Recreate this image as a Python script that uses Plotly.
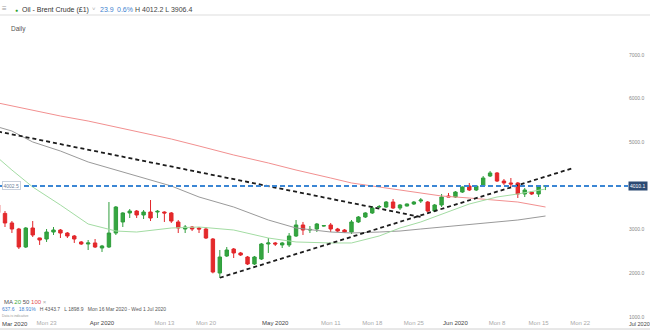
import pandas as pd
import plotly.graph_objects as go

# Daily sessions: Sunday sessions traded, Saturdays and Good Friday closed
start_day, end_day = "2020-03-15", "2020-06-16"
closed_days = ["2020-04-10"]
days = [d for d in pd.date_range(start_day, end_day)
        if d.dayofweek != 5 and d.strftime("%Y-%m-%d") not in closed_days]
dates = [d.strftime("%Y-%m-%d 12:00") for d in days]

opens = [3565, 3372.5, 3153, 3015, 2603, 3038, 2810, 2786, 2946, 2992, 2923, 2855, 2718, 2672,
         2695, 2580, 2603, 2923, 3176, 3382, 3427, 3336, 3404, 3404, 3404, 3382, 3176, 3015,
         3061, 3038, 3015, 2786, 2007, 2397, 2557, 2466, 2374, 2214, 2328, 2672, 2695, 2650,
         2650, 2855, 3107, 2992, 3015, 3084, 3107, 3015, 2992, 2946, 3176, 3290, 3382, 3519,
         3519, 3633, 3496, 3542, 3588, 3656, 3633, 3427, 3565, 3771, 3748, 3862, 4000, 3908,
         4000, 4229, 4298, 4114, 4069, 4069, 3817, 3862, 3817, 3986.2]
highs = [3600, 3427, 3198, 3040, 3060, 3198, 2815, 3015, 3061, 3015, 2946, 2878, 2740, 2763,
         2786, 2650, 3633, 3542, 3400, 3473, 3450, 3450, 3679, 3450, 3420, 3404, 3221, 3107,
         3084, 3061, 3061, 2809, 2534, 2603, 2580, 2489, 2397, 2397, 2695, 2809, 2718, 2718,
         2923, 3221, 3176, 3084, 3153, 3100, 3153, 3040, 3015, 3221, 3313, 3400, 3542, 3565,
         3656, 3702, 3588, 3600, 3656, 3725, 3656, 3588, 3817, 3840, 3885, 3990, 4069, 4023,
         4229, 4343.7, 4320, 4160, 4183, 4091, 3954, 3862, 3995, 4012.2]
lows = [3360, 3061, 2924, 2557, 2580, 2832, 2650, 2718, 2878, 2809, 2809, 2695, 2650, 2534,
        2580, 2489, 2580, 2878, 3061, 3267, 3267, 3244, 3198, 3267, 3176, 3153, 2923, 2923,
        2969, 2923, 2786, 2000, 1898.9, 2374, 2351, 2397, 2191, 2191, 2305, 2466, 2626, 2580,
        2603, 2832, 2878, 2923, 2946, 3070, 2946, 2946, 2923, 2900, 3153, 3267, 3359, 3496,
        3496, 3473, 3450, 3530, 3565, 3610, 3404, 3404, 3519, 3748, 3725, 3840, 3885, 3885,
        3977, 4206, 4091, 4023, 3977, 3725, 3748, 3794, 3748, 3906.4]
closes = [3390, 3153, 3015, 2603, 3038, 2878, 2763, 2946, 2992, 2923, 2855, 2786, 2672, 2695,
          2603, 2626, 2923, 3519, 3382, 3427, 3336, 3404, 3267, 3420, 3382, 3198, 3038, 3061,
          3015, 3015, 2809, 2030, 2374, 2534, 2466, 2420, 2214, 2374, 2672, 2695, 2672, 2695,
          2855, 3107, 2992, 3005, 3130, 3092, 3015, 2969, 2946, 3176, 3290, 3382, 3496, 3530,
          3633, 3496, 3565, 3588, 3633, 3679, 3427, 3565, 3748, 3750, 3862, 3977, 3908, 4000,
          4183, 4298, 4114, 4069, 4046, 3817, 3908, 3817, 3986.2, 4010.1]

# Moving averages sampled on selected sessions
ma_dates = ["2020-03-15", "2020-03-17", "2020-03-20", "2020-03-25", "2020-03-30", "2020-04-03",
            "2020-04-07", "2020-04-14", "2020-04-19", "2020-04-24", "2020-04-30", "2020-05-05",
            "2020-05-11", "2020-05-14", "2020-05-19", "2020-05-22", "2020-05-26", "2020-05-29",
            "2020-06-03", "2020-06-08", "2020-06-11", "2020-06-16"]
ma20 = [4641, 4366, 3977, 3565, 3130, 2969, 2946, 3038, 3061, 2992, 2809, 2718,
        2695, 2695, 2855, 3038, 3176, 3359, 3588, 3748, 3817, 3931]
ma50 = [5351, 5259, 5008, 4801, 4550, 4366, 4229, 4000, 3748, 3519, 3221, 3038,
        2946, 2924, 2946, 2969, 3015, 3061, 3107, 3176, 3221, 3313]
ma100 = [5901, 5832, 5740, 5603, 5488, 5351, 5259, 5076, 4916, 4710, 4527, 4366,
         4183, 4069, 3977, 3908, 3840, 3771, 3725, 3679, 3633, 3519]

# Trendlines (start, end)
falling_dates, falling_vals = ["2020-03-15", "2020-05-26"], [5248, 3290]
rising_dates, rising_vals = ["2020-04-22", "2020-06-21"], [1898.9, 4412]
level_line = 4002.5
last_price = 4010.1

y_ticks = [1000, 2000, 3000, 4000, 5000, 6000, 7000]
x_tick_dates = ["2020-03-23", "2020-04-01", "2020-04-13", "2020-04-20", "2020-05-01",
                "2020-05-11", "2020-05-18", "2020-05-25", "2020-06-01", "2020-06-08",
                "2020-06-15", "2020-06-22"]
x_tick_text = ["Mon 23", "Apr 2020", "Mon 13", "Mon 20", "May 2020", "Mon 11", "Mon 18",
               "Mon 25", "Jun 2020", "Mon 8", "Mon 15", "Mon 22"]

noon = lambda ds: [d + " 12:00" for d in ds]

FONT = "Liberation Sans, Arial, sans-serif"
W, H = 650, 330
ML, MR, MT, MB = 0, 22, 15, 12
PW, PH = W - ML - MR, H - MT - MB


def fx(px):
    return (px - ML) / PW


def fy(py):
    return (H - MB - py) / PH


fig = go.Figure()

fig.add_trace(go.Scatter(x=noon(ma_dates), y=ma100, mode="lines",
                         line=dict(color="#f29090", width=1), hoverinfo="skip"))
fig.add_trace(go.Scatter(x=noon(ma_dates), y=ma50, mode="lines",
                         line=dict(color="#9a9a9a", width=1), hoverinfo="skip"))
fig.add_trace(go.Scatter(x=noon(ma_dates), y=ma20, mode="lines",
                         line=dict(color="#a3dca3", width=1), hoverinfo="skip"))

fig.add_trace(go.Candlestick(
    x=dates, open=opens, high=highs, low=lows, close=closes,
    increasing=dict(line=dict(color="#2f9e3c", width=1), fillcolor="#35a640"),
    decreasing=dict(line=dict(color="#e2262b", width=1), fillcolor="#e42a2a"),
    whiskerwidth=0, hoverinfo="skip"))

for xs, ys in [(falling_dates, falling_vals), (rising_dates, rising_vals)]:
    fig.add_trace(go.Scatter(x=noon(xs), y=ys, mode="lines",
                             line=dict(color="#1c1c1c", width=1.8, dash="4px,3px"),
                             hoverinfo="skip"))

fig.add_shape(type="line", xref="paper", x0=0, x1=1, yref="y", y0=level_line, y1=level_line,
              line=dict(color="#3b86d4", width=2, dash="5px,3px"))
# header and footer rules
fig.add_shape(type="line", xref="paper", x0=0, x1=W / PW, yref="paper", y0=fy(15), y1=fy(15),
              line=dict(color="#dddddd", width=1))
fig.add_shape(type="line", xref="paper", x0=0, x1=W / PW, yref="paper", y0=fy(329), y1=fy(329),
              line=dict(color="#d0d0d0", width=1))

ann = []


def label(px, py, text, size, color, **kw):
    ann.append(dict(xref="paper", yref="paper", x=fx(px), y=fy(py), text=text,
                    xanchor="left", yanchor="middle", showarrow=False,
                    font=dict(size=size, color=color, family=FONT), borderpad=0, **kw))


BLUE = "#3f83d0"
label(1, 9, "≡", 8, "#9a9a9a")
label(14, 9.5, "●", 5, "#2ca02c")
label(21, 10, "Oil - Brent Crude (£1)", 7, "#333333")
label(91, 9, "˅", 6, "#aaaaaa")
label(99, 10, "23.9", 7, BLUE)
label(116, 10, "0.6%", 7, BLUE)
label(134, 10, "H 4012.2 L 3906.4", 7, "#444444")
label(10, 29, "Daily", 6.5, "#555555")
label(3, 302, "MA <span style='color:#3caa3c'>20</span> 50 "
              "<span style='color:#e25050'>100</span> <span style='color:#aaaaaa'>×</span>",
      6, "#555555")
label(1, 309, f"<span style='color:{BLUE}'>637.6</span>   <span style='color:{BLUE}'>18.91%</span>"
              "   H 4343.7   L 1898.9   Mon 16 Mar 2020 - Wed 1 Jul 2020", 5, "#555555")
label(1, 316, "Data is indicative", 3.5, "#999999")
label(1, 324, "Mar 2020", 6, "#444444")
label(628, 324, "Jul 2020", 5.5, "#444444")

# price tags
ann.append(dict(xref="paper", yref="y", x=fx(628), y=last_price, text="4010.1",
                xanchor="left", yanchor="middle", showarrow=False, bgcolor="#2c4a73",
                borderpad=1, font=dict(size=5, color="white", family=FONT)))
ann.append(dict(xref="paper", yref="y", x=fx(2), y=level_line, text="4002.5",
                xanchor="left", yanchor="middle", showarrow=False, bgcolor="white",
                bordercolor="#c9d1dc", borderwidth=1, borderpad=0.5,
                font=dict(size=5, color="#6d7f99", family=FONT)))

tick_text = [f"<span style='color:#444444'>{t}</span>" if "20" in t and not t.startswith("Mon")
             else t for t in x_tick_text]

fig.update_layout(
    width=W, height=H,
    margin=dict(l=ML, r=MR, t=MT, b=MB, pad=0),
    paper_bgcolor="white", plot_bgcolor="white",
    showlegend=False,
    font=dict(family=FONT),
    annotations=ann,
    xaxis=dict(type="date", range=["2020-03-15 18:43", "2020-06-30 09:36"],
               rangebreaks=[dict(bounds=["sat", "sun"]), dict(values=closed_days)],
               rangeslider=dict(visible=False),
               tickvals=noon(x_tick_dates), ticktext=tick_text,
               tickfont=dict(size=6, color="#aaaaaa"), ticks="",
               showgrid=False, zeroline=False, showline=False),
    yaxis=dict(side="right", range=[977, 7916], tickvals=y_ticks,
               ticktext=[f"{v:.1f}" for v in y_ticks],
               tickfont=dict(size=5, color="#888888"), ticks="",
               showgrid=False, zeroline=False, showline=False),
)

fig.write_html("out.html")
